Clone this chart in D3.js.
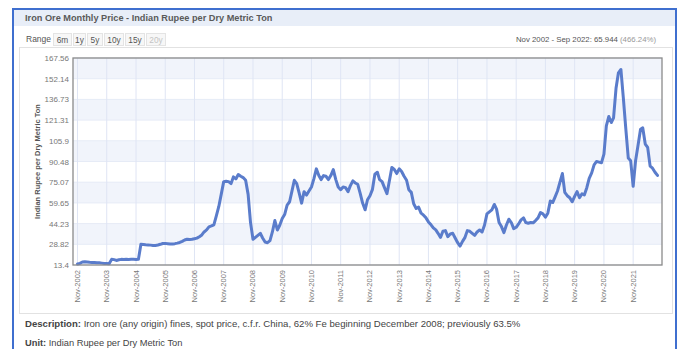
<!DOCTYPE html>
<html><head><meta charset="utf-8">
<script src="https://cdn.jsdelivr.net/npm/d3@7"></script>
<style>
html,body{margin:0;padding:0;background:#fff;}
svg{display:block;font-family:"Liberation Sans",Arial,sans-serif;}
</style></head>
<body><svg id="c" width="686" height="349"></svg>
<script>
// ---- data ----
const title = "Iron Ore Monthly Price - Indian Rupee per Dry Metric Ton";
const yTitle = "Indian Rupee per Dry Metric Ton";
const rangeButtons = ["6m","1y","5y","10y","15y","20y"];
const summaryMain = "Nov 2002 - Sep 2022: 65.944";
const summaryPct = " (466.24%)";
const firstMonth = "2002-11";
const lastMonth = "2022-09";
const yTicks = [13.4, 28.82, 44.23, 59.65, 75.07, 90.48, 105.9, 121.31, 136.73, 152.14, 167.56];
const xTickYears = [2002,2003,2004,2005,2006,2007,2008,2009,2010,2011,2012,2013,2014,2015,2016,2017,2018,2019,2020,2021];
const prices = [
14.1,14.6,15.6,15.8,15.6,15.4,15.3,15.2,15.0,15.0,14.8,14.6,14.5,14.3,
17.6,17.4,16.8,17.3,17.6,17.5,17.6,17.5,17.6,17.6,17.5,17.6,
28.8,28.6,28.4,28.3,28.2,28.0,28.0,28.3,28.8,29.4,29.5,29.3,29.1,29.0,29.3,29.7,30.2,31.0,32.0,32.6,32.4,32.6,33.0,33.4,
34.5,35.8,38.0,39.5,41.8,42.5,43.3,50.0,57.0,66.0,
75.5,75.8,75.5,74.0,79.0,77.5,80.8,79.5,78.5,76.5,66.0,45.0,
32.5,34.0,35.5,37.0,33.5,30.5,30.0,31.5,38.0,46.5,39.5,43.0,
48.0,51.0,58.0,60.5,68.0,76.5,74.0,67.0,59.5,68.0,65.5,68.5,
71.5,77.5,85.0,80.0,77.0,80.0,79.5,77.0,80.0,84.5,77.0,71.5,
69.5,71.5,71.0,68.0,72.5,76.0,74.5,73.5,67.0,59.5,54.5,62.0,
65.0,69.5,81.0,82.5,77.0,75.5,71.0,66.5,76.0,86.0,84.5,81.5,
85.0,83.0,79.5,76.5,69.5,67.5,59.0,55.5,56.5,52.0,50.5,48.5,
45.5,43.5,41.0,39.5,37.0,34.0,38.5,39.0,34.5,36.5,37.0,33.5,
30.0,27.5,31.0,34.0,39.0,38.5,37.0,35.5,38.0,39.5,38.0,43.0,
51.5,53.0,54.5,58.5,55.0,45.0,42.0,37.5,43.0,47.5,45.0,40.5,
41.5,44.0,47.0,48.5,45.0,44.5,45.0,44.8,46.5,48.5,52.5,51.5,
49.0,52.0,61.0,60.0,64.0,68.5,75.0,81.5,67.5,65.0,63.5,60.5,
64.5,68.0,63.5,66.5,65.5,71.0,78.0,82.0,88.0,90.5,90.0,89.5,
96.0,117.0,124.0,119.5,123.0,145.0,156.5,159.0,138.0,115.0,93.0,91.0,
72.0,91.0,102.5,114.5,115.5,103.5,101.0,87.0,85.5,82.5,80.1
];
const descLabel = "Description:";
const descText = " Iron ore (any origin) fines, spot price, c.f.r. China, 62% Fe beginning December 2008; previously 63.5%";
const unitLabel = "Unit:";
const unitText = " Indian Rupee per Dry Metric Ton";

// ---- build ----
const parseM = d3.timeParse("%Y-%m");
const months = d3.timeMonth.range(parseM(firstMonth), d3.timeMonth.offset(parseM(lastMonth),1));
const series = months.map((d,i)=>({date:d, value:prices[i]}));

const svg = d3.select("#c");
// outer frame
svg.append("rect").attr("x",13).attr("y",9).attr("width",663).attr("height",360)
  .attr("fill","#fff").attr("stroke","#3f6fcf").attr("stroke-width",2);
// title bar
svg.append("rect").attr("x",14).attr("y",10).attr("width",661).attr("height",16).attr("fill","#e8eef8");
svg.append("text").attr("x",25).attr("y",21).attr("font-size",9.2).attr("font-weight","bold")
  .attr("fill","#5a5a5a").text(title);

// range row
svg.append("text").attr("x",26).attr("y",42).attr("font-size",8.5).attr("fill","#555").text("Range");
const bw = [19,13,16,20,20,20];
let bx = 53;
rangeButtons.forEach((b,i)=>{
  svg.append("rect").attr("x",bx+0.5).attr("y",33.5).attr("width",bw[i]-1).attr("height",12)
    .attr("fill","#f7f7f7").attr("stroke","#e4e4e4");
  svg.append("text").attr("x",bx+bw[i]/2).attr("y",42.5).attr("text-anchor","middle")
    .attr("font-size",8.3).attr("fill", i===5?"#c4c4c4":"#555").text(b);
  bx += bw[i] + 1;
});
const sum = svg.append("text").attr("x",656).attr("y",42).attr("text-anchor","end").attr("font-size",7.8);
sum.append("tspan").attr("fill","#555").text(summaryMain);
sum.append("tspan").attr("fill","#999").text(summaryPct);

// chart panel
svg.append("rect").attr("x",19.5).attr("y",47.5).attr("width",653).attr("height",266)
  .attr("fill","#fff").attr("stroke","#e2e2e2");

// plot
const L=73, R=662, T=58, B=265;
const x = d3.scaleTime().domain([months[0], months[months.length-1]]).range([77.5, 657.5]);
const y = d3.scaleLinear().domain([yTicks[0], yTicks[yTicks.length-1]]).range([B, T]);

// bands
for (let i=1;i<yTicks.length-1;i+=2){
  svg.append("rect").attr("x",L).attr("width",R-L)
    .attr("y",y(yTicks[i+1])).attr("height",y(yTicks[i])-y(yTicks[i+1])).attr("fill","#f1f4fb");
}
// horizontal grid lines
svg.append("g").selectAll("line").data(yTicks).join("line")
  .attr("x1",L).attr("x2",R).attr("y1",d=>y(d)).attr("y2",d=>y(d))
  .attr("stroke","#e6ebf6").attr("stroke-width",1);
// vertical grid lines
const xTickDates = xTickYears.map(yr=>new Date(yr,10,1));
svg.append("g").selectAll("line").data(xTickDates).join("line")
  .attr("x1",d=>x(d)).attr("x2",d=>x(d)).attr("y1",T).attr("y2",B)
  .attr("stroke","#dfe5f4").attr("stroke-width",1);

// y axis labels
const yAxis = d3.axisLeft(y).tickValues(yTicks).tickSize(0).tickPadding(4).tickFormat(d=>String(d));
const gy = svg.append("g").attr("transform",`translate(${L},0)`).call(yAxis);
gy.select(".domain").remove();
gy.selectAll("text").attr("font-size",8).attr("fill","#777").attr("font-family","Liberation Sans, Arial, sans-serif");

// x axis labels
const xAxis = d3.axisBottom(x).tickValues(xTickDates).tickSize(0).tickFormat(d3.timeFormat("Nov-%Y"));
const gx = svg.append("g").attr("transform",`translate(0,${B})`).call(xAxis);
gx.select(".domain").remove();
gx.selectAll("text").attr("font-size",7.5).attr("fill","#777").attr("font-family","Liberation Sans, Arial, sans-serif")
  .attr("text-anchor","end").attr("dy",null).attr("transform","translate(0,5) rotate(-90)").attr("x",0).attr("y",0)
  .attr("dominant-baseline","middle");

// y title
svg.append("text").attr("transform",`translate(40,${(T+B)/2}) rotate(-90)`).attr("text-anchor","middle")
  .attr("font-size",7.5).attr("font-weight","bold").attr("fill","#555").text(yTitle);

// line
const line = d3.line().x(d=>x(d.date)).y(d=>y(d.value)).curve(d3.curveLinear);
svg.append("path").datum(series).attr("d",line).attr("fill","none")
  .attr("stroke","#5a7ccb").attr("stroke-width",3).attr("stroke-linejoin","round").attr("stroke-linecap","round");

// plot border
svg.append("rect").attr("x",L).attr("y",T).attr("width",R-L).attr("height",B-T)
  .attr("fill","none").attr("stroke","#8a8a8a").attr("stroke-width",1.3);

// description
const d1 = svg.append("text").attr("x",25).attr("y",327).attr("font-size",9.6).attr("fill","#444");
d1.append("tspan").attr("font-weight","bold").text(descLabel);
d1.append("tspan").text(descText);
const d2 = svg.append("text").attr("x",25).attr("y",346).attr("font-size",9.3).attr("fill","#444");
d2.append("tspan").attr("font-weight","bold").text(unitLabel);
d2.append("tspan").text(unitText);
</script></body></html>
